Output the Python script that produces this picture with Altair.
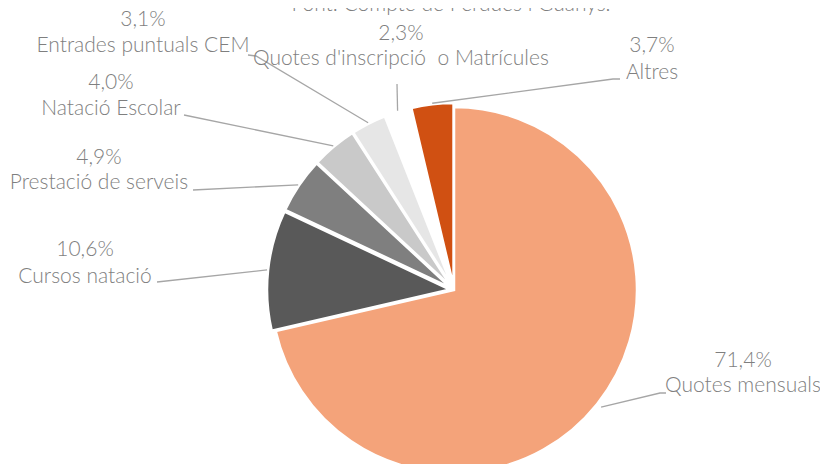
import math
import altair as alt
import pandas as pd

# ---------------- data ----------------
categories = [
    "Quotes mensuals",
    "Cursos natació",
    "Prestació de serveis",
    "Natació Escolar",
    "Entrades puntuals CEM",
    "Quotes d'inscripció\u00a0 o Matrícules",
    "Altres",
]
values = [71.4, 10.6, 4.9, 4.0, 3.1, 2.3, 3.7]
colors = ["#F4A37A", "#595959", "#7F7F7F", "#C9C9C9", "#E6E6E6", "#FFFFFF", "#D05012"]
pct_text = [f"{v:.1f}%".replace(".", ",") for v in values]
title_text = "Font: Compte de Pèrdues i Guanys."

# ---------------- layout (page pixels) ----------------
W, H = 812, 456
CX, CY, R = 454, 290, 183
R_EDGE = R + 5
EXPLODE = [0, 4, 4, 4, 4, 4, 4]
FONT_SIZE = 21
label_x = [743, 85, 99, 111, 143, 401, 652]
label_y_pct = [361, 250, 158, 83, 20, 34, 46]
label_y_name = [386, 277, 183, 109, 46, 59, 73]
elbows = [
    [(660, 393), (666, 393)],
    [(157, 282)],
    [(193, 190)],
    [(184, 115)],
    [(256, 56), (248, 55)],
    [(397, 84)],
    [(613, 79), (620, 79)],
]
title_pos = (451, 11)

# ---------------- derived tables ----------------
total = sum(values)
arc_rows, line_rows, text_rows = [], [], []
cum = 0.0
for i, (c, v) in enumerate(zip(categories, values)):
    t0 = cum / total * 2 * math.pi
    cum += v
    t1 = cum / total * 2 * math.pi
    m = (t0 + t1) / 2
    arc_rows.append(dict(cat=c, idx=i, t0=t0, t1=t1,
                         cx=CX + EXPLODE[i] * math.sin(m),
                         cy=CY - EXPLODE[i] * math.cos(m)))
    pts = [(CX + R_EDGE * math.sin(m), CY - R_EDGE * math.cos(m))] + elbows[i]
    for k, (px, py) in enumerate(pts):
        line_rows.append(dict(cat=c, k=k, x=px, y=py))
    text_rows.append(dict(x=label_x[i], y=label_y_pct[i], t=pct_text[i]))
    text_rows.append(dict(x=label_x[i], y=label_y_name[i], t=c))

arcs = pd.DataFrame(arc_rows)
lines = pd.DataFrame(line_rows)
texts = pd.DataFrame(text_rows)
title_df = pd.DataFrame([dict(x=title_pos[0], y=title_pos[1], t=title_text)])

xs = alt.Scale(domain=[8, 8 + W], range=[0, W], nice=False, zero=False)
ys = alt.Scale(domain=[8, 8 + H], range=[0, H], nice=False, zero=False)

arc_layer = alt.Chart(arcs).mark_arc(radius=R, stroke="white", strokeWidth=2.5).encode(
    x=alt.X("cx:Q", scale=xs, axis=None),
    y=alt.Y("cy:Q", scale=ys, axis=None),
    theta=alt.Theta("t0:Q", scale=None),
    theta2=alt.Theta2("t1:Q"),
    color=alt.Color("cat:N", scale=alt.Scale(domain=categories, range=colors), legend=None),
)

line_layer = alt.Chart(lines).mark_line(color="#A6A6A6", strokeWidth=1.3).encode(
    x=alt.X("x:Q", scale=xs, axis=None),
    y=alt.Y("y:Q", scale=ys, axis=None),
    detail="cat:N",
    order="k:O",
)

text_layer = alt.Chart(texts).mark_text(
    font="Lato", fontWeight=300, fontSize=FONT_SIZE, color="#7F7F7F", align="center", baseline="middle"
).encode(
    x=alt.X("x:Q", scale=xs, axis=None),
    y=alt.Y("y:Q", scale=ys, axis=None),
    text="t:N",
)

title_layer = alt.Chart(title_df).mark_text(
    font="Lato", fontWeight=300, fontSize=FONT_SIZE, color="#7F7F7F", align="center", baseline="alphabetic"
).encode(
    x=alt.X("x:Q", scale=xs, axis=None),
    y=alt.Y("y:Q", scale=ys, axis=None),
    text="t:N",
)

chart = alt.layer(arc_layer, line_layer, text_layer, title_layer).properties(
    width=W, height=H, autosize=alt.AutoSizeParams(type="none"), padding=0
).configure_view(stroke=None)

chart.save("out.html", embed_options={"renderer": "svg", "actions": False})
